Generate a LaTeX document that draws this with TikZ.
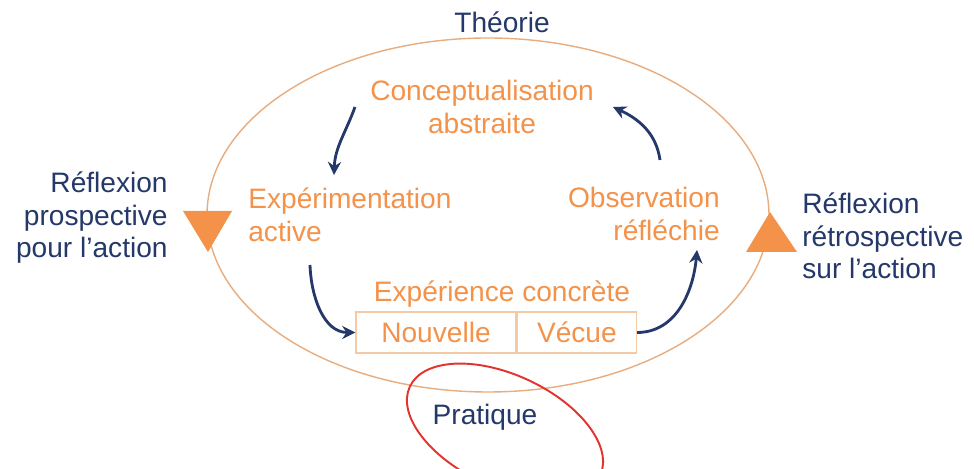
\documentclass[tikz,border=0pt]{standalone}
\usepackage{fontspec}
\setmainfont{Liberation Sans}
\usetikzlibrary{arrows.meta}
\definecolor{kolbOrange}{HTML}{F5924A}
\definecolor{kolbLine}{HTML}{E8AD7E}
\definecolor{kolbBox}{HTML}{F4C9A6}
\definecolor{kolbNavy}{HTML}{24386A}
\definecolor{kolbRed}{HTML}{E2332E}

\begin{document}
\begin{tikzpicture}[x=0.02cm, y=0.02cm,
  stage/.style={text=kolbOrange, font=\fontsize{16}{18.5}\selectfont, inner sep=0},
  pole/.style={text=kolbNavy, font=\fontsize{16}{18.5}\selectfont, inner sep=0},
  cycle/.style={kolbNavy, line width=1.6pt, -{Stealth[length=7.5pt, width=7.5pt, inset=2.5pt]}},
  cell/.style={draw=kolbBox, line width=0.8pt, minimum height=0.82cm, inner sep=0}]
\useasboundingbox (0, 0) rectangle (974, 469);
\fill[white] (0, 0) rectangle (974, 469);
% main cycle
\draw[kolbLine, line width=0.8pt] (488, 254) ellipse (281 and 177);
\draw[kolbRed, line width=1.1pt, rotate around={-25:(505, 38)}] (505, 38) ellipse (105 and 56);
% poles
\node[pole] (theorie) at (502, 447) {Théorie};
\node[pole] (pratique) at (485, 52) {Pratique};
\node[pole, anchor=east, align=right] (prospective) at (168, 251) {Réflexion\\prospective\\pour l’action};
\node[pole, anchor=west, align=left] (retrospective) at (802, 233) {Réflexion\\rétrospective\\sur l’action};
\fill[kolbOrange] (183, 258) -- (232, 258) -- (208, 217) -- cycle;
\fill[kolbOrange] (770, 257) -- (797, 217) -- (746, 217) -- cycle;
% stages
\node[stage, align=center] (abstraite) at (482, 362) {Conceptualisation\\abstraite};
\node[stage, anchor=west, align=left] (active) at (248, 254) {Expérimentation\\active};
\node[stage, anchor=east, align=right] (reflechie) at (720, 255) {Observation\\réfléchie};
\node[stage] (concrete) at (502, 175) {Expérience concrète};
\node[stage, cell, minimum width=3.2cm] (nouvelle) at (436, 136.5) {Nouvelle};
\node[stage, cell, minimum width=2.38cm, anchor=west] (vecue) at (nouvelle.east) {Vécue};
% arrows
\coordinate (a1) at (355, 362);
\coordinate (a2) at (334, 294);
\coordinate (b1) at (310, 204);
\coordinate (c2) at (697, 219);
\coordinate (d1) at (660, 309);
\coordinate (d2) at (613, 362);
\draw[cycle] (a1) to[out=250, in=88] (a2);
\draw[cycle] (b1) to[out=-88, in=180] (nouvelle.west);
\draw[cycle] (vecue.east) to[out=0, in=-95] (c2);
\draw[cycle] (d1) to[out=98, in=-25] (d2);
\end{tikzpicture}
\end{document}
